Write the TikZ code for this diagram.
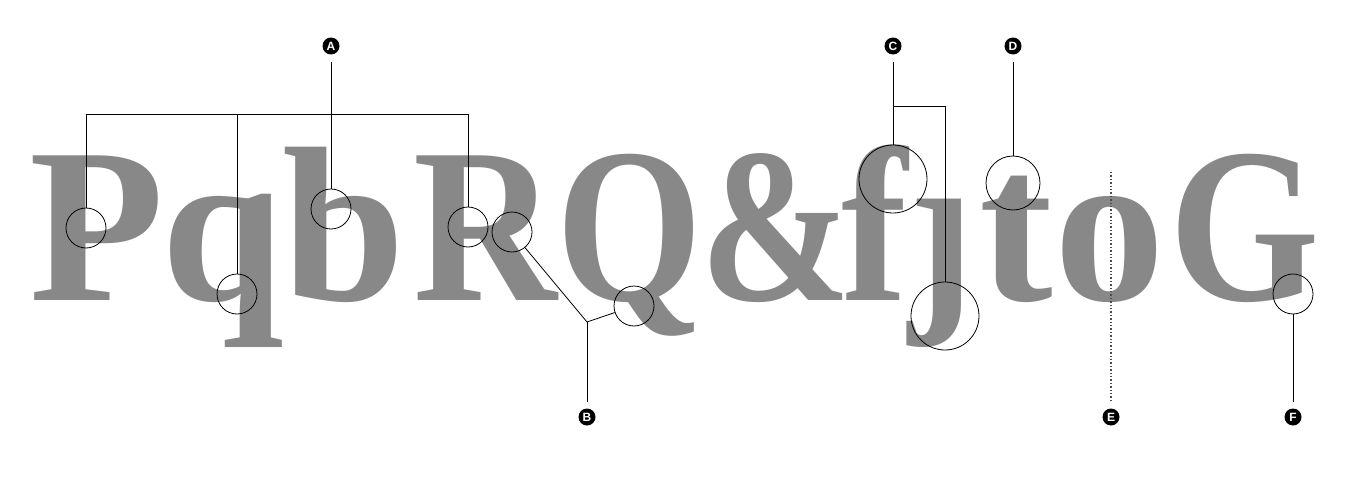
\documentclass[tikz,border=0pt]{standalone}
\usepackage{fontspec}
\setmainfont{Liberation Serif}
\setsansfont{Liberation Sans}
\definecolor{glyph}{RGB}{136,136,136}
\tikzset{
  glyphnode/.style={anchor=base, inner sep=0pt, outer sep=0pt, text=glyph,
    font=\fontsize{221}{221}\selectfont\bfseries},
  marker/.style={circle, fill=black, text=white, minimum size=17pt, inner sep=0pt,
    outer sep=7pt, font=\sffamily\bfseries\fontsize{12}{12}\selectfont},
  loupe/.style={circle, draw=black, line width=0.8pt, inner sep=0pt, minimum size=40pt},
  lead/.style={draw=black, line width=0.8pt},
  guide/.style={draw=black!70, line width=1.4pt, dash pattern=on 1.4pt off 2pt}
}
\begin{document}
\begin{tikzpicture}[x=1pt, y=-1pt]
\useasboundingbox (0,0) rectangle (1358,479);
% glyphs
\node[glyphnode] (gP) at (97,300) {P};
\node[glyphnode] (gq) at (223,300) {q};
\node[glyphnode] (gb) at (344,300) {b};
\node[glyphnode] (gR) at (485,300) {\scalebox{0.9}[1]{R}};
\node[glyphnode] (gQ) at (630,300) {\scalebox{0.85}[1]{Q}};
\node[glyphnode] (gamp) at (776,300) {\scalebox{0.82}[1]{\&}};
\node[glyphnode] (gfj) at (908,300) {\scalebox{0.9}[1]{fȷ}};
\node[glyphnode] (gt) at (1016,300) {t};
\node[glyphnode] (go) at (1110,300) {o};
\node[glyphnode] (gG) at (1245,300) {\scalebox{0.875}[1]{G}};
% loupes
\node[loupe] (cP) at (86,228) {};
\node[loupe] (cq) at (237,294) {};
\node[loupe] (cb) at (331,209) {};
\node[loupe] (cR1) at (468,227) {};
\node[loupe] (cR2) at (512,232) {};
\node[loupe] (cQ) at (634,306) {};
\node[loupe, minimum size=68pt] (cf) at (893,179) {};
\node[loupe, minimum size=68pt] (cj) at (945,316) {};
\node[loupe, minimum size=54pt] (ct) at (1013,183) {};
\node[loupe] (cG) at (1293,294) {};
% markers
\node[marker] (mA) at (331,46) {A};
\node[marker] (mB) at (587,417) {B};
\node[marker] (mC) at (893,46) {C};
\node[marker] (mD) at (1013,46) {D};
\node[marker] (mE) at (1111,417) {E};
\node[marker] (mF) at (1293,417) {F};
% junctions
\coordinate (hA1) at (86,114);
\coordinate (hA2) at (468,114);
\coordinate (jB) at (587,322);
\coordinate (jC) at (893,106);
\coordinate (eTop) at (1111,172);
% leaders
\draw[lead] (mA) -- (cb);
\draw[lead] (cP) -- (hA1) -- (hA2) -- (cR1);
\draw[lead] (cq) -- (cq |- hA1);
\draw[lead] (mB) -- (jB);
\draw[lead] (cR2) -- (jB) -- (cQ);
\draw[lead] (mC) -- (cf);
\draw[lead] (jC) -| (cj);
\draw[lead] (mD) -- (ct);
\draw[guide] (eTop) -- (mE);
\draw[lead] (cG) -- (mF);
\end{tikzpicture}
\end{document}
